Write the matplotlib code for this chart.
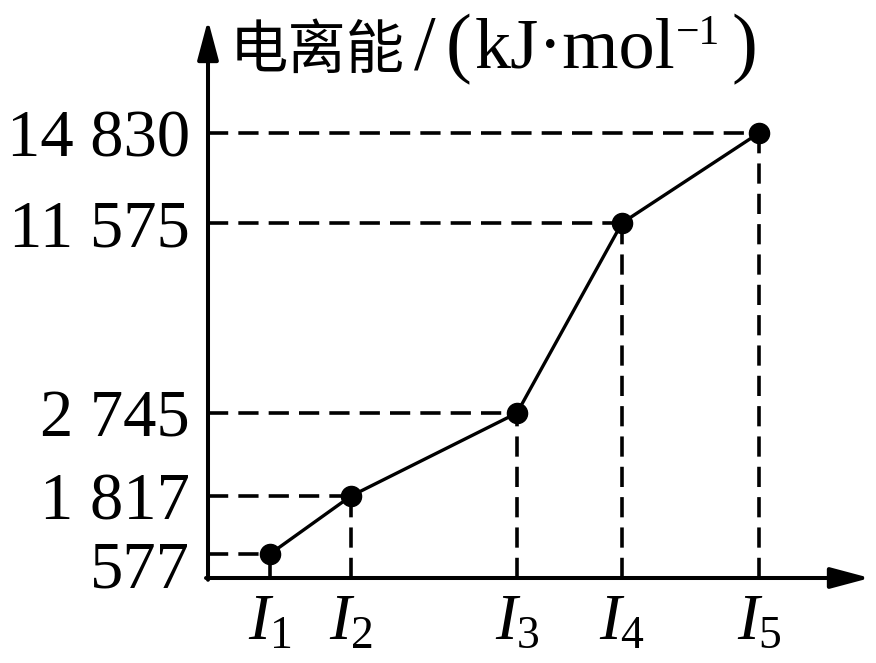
import numpy as np
import matplotlib
matplotlib.use("Agg")
import matplotlib.pyplot as plt
from matplotlib.scale import FuncScale
from matplotlib.transforms import ScaledTranslation

# ---- data ----
categories = ["I_1", "I_2", "I_3", "I_4", "I_5"]
energies = [577, 1817, 2745, 11575, 14830]          # kJ/mol
tick_labels = ["577", "1 817", "2 745", "11 575", "14 830"]

# ---- schematic (non-linear) layout of the axes ----
x_layout = [62, 143, 309, 414, 551]                  # category positions along x
y_break_vals = [0, 577, 1817, 2745, 11575, 14830]    # value breakpoints
y_break_pos = [0, 24, 82, 165, 355, 445]             # where they sit on the axis

W, H, DPI = 876, 663, 100
plt.rcParams['mathtext.fontset'] = 'custom'
plt.rcParams['mathtext.rm'] = 'Liberation Serif'
plt.rcParams['mathtext.it'] = 'Liberation Serif:italic'
plt.rcParams['font.family'] = ['Liberation Serif', 'Noto Sans CJK SC', 'DejaVu Sans']

fig = plt.figure(figsize=(W / DPI, H / DPI), dpi=DPI)
x0, y0, ytop, xright = 208, 578, 133, 870
ax = fig.add_axes([x0 / W, (H - y0) / H, (xright - x0) / W, (y0 - ytop) / H])

fwd = lambda v: np.interp(v, y_break_vals, y_break_pos)
inv = lambda p: np.interp(p, y_break_pos, y_break_vals)
ax.set_yscale(FuncScale(ax, (fwd, inv)))
ax.set_ylim(0, max(energies))
ax.set_xlim(0, xright - x0)

lw_dash = 2.6
dash = (0, (5.6, 2.8))
for xp, e in zip(x_layout, energies):
    ax.plot([0, xp], [e, e], color='k', lw=lw_dash, linestyle=dash, clip_on=False)
    ax.plot([xp, xp], [0, e], color='k', lw=lw_dash, linestyle=dash, clip_on=False)

ax.plot(x_layout, energies, color='k', lw=2.4, marker='o', markersize=14.5,
        clip_on=False, zorder=5)

for s in ax.spines.values():
    s.set_visible(False)

arrow = dict(arrowstyle='-|>,head_length=0.6,head_width=0.16', lw=2.9, color='k',
             mutation_scale=40, shrinkA=0, shrinkB=0)
ax.annotate('', xy=(1, 0), xytext=(-0.003, 0), xycoords='axes fraction', arrowprops=arrow)
ax.annotate('', xy=(0, (y0 - 20) / (y0 - ytop)), xytext=(0, -0.004), xycoords='axes fraction',
            arrowprops=arrow)

ax.set_yticks(energies)
ax.set_yticklabels(tick_labels, fontsize=48)
ax.set_xticks(x_layout)
ax.set_xticklabels(["$" + c + "$" for c in categories], fontsize=47)
ax.tick_params(axis='y', length=0, pad=13)
ax.tick_params(axis='x', length=0, pad=11)
ax.yaxis.get_ticklabels()[0].set_transform(
    ax.yaxis.get_ticklabels()[0].get_transform() + ScaledTranslation(0, -10 / 100, fig.dpi_scale_trans))

# ---- title pieces ----
r = fig.canvas.get_renderer()
base_y = (H - 68) / H
title_parts = [  # (text, fontsize, family, gap before in px, raise in px)
    ("电离能", 42, ['Noto Sans CJK SC'], 0, 0),
    ("/", 56, None, 9, 0),
    ("(", 56, None, 10, 0),
    ("kJ·mol", 52, None, 3, 0),
    ("−1", 30, None, 0, 24),
    (")", 56, None, 12, 0),
]
xpos = 230
for txt, fs, fam, gap, rise in title_parts:
    kw = dict(fontsize=fs, va='baseline')
    if fam:
        kw['family'] = fam
    t = fig.text((xpos + gap) / W, base_y + rise / H, txt, **kw)
    xpos = t.get_window_extent(renderer=r).x1

fig.savefig("out.png", dpi=DPI)
